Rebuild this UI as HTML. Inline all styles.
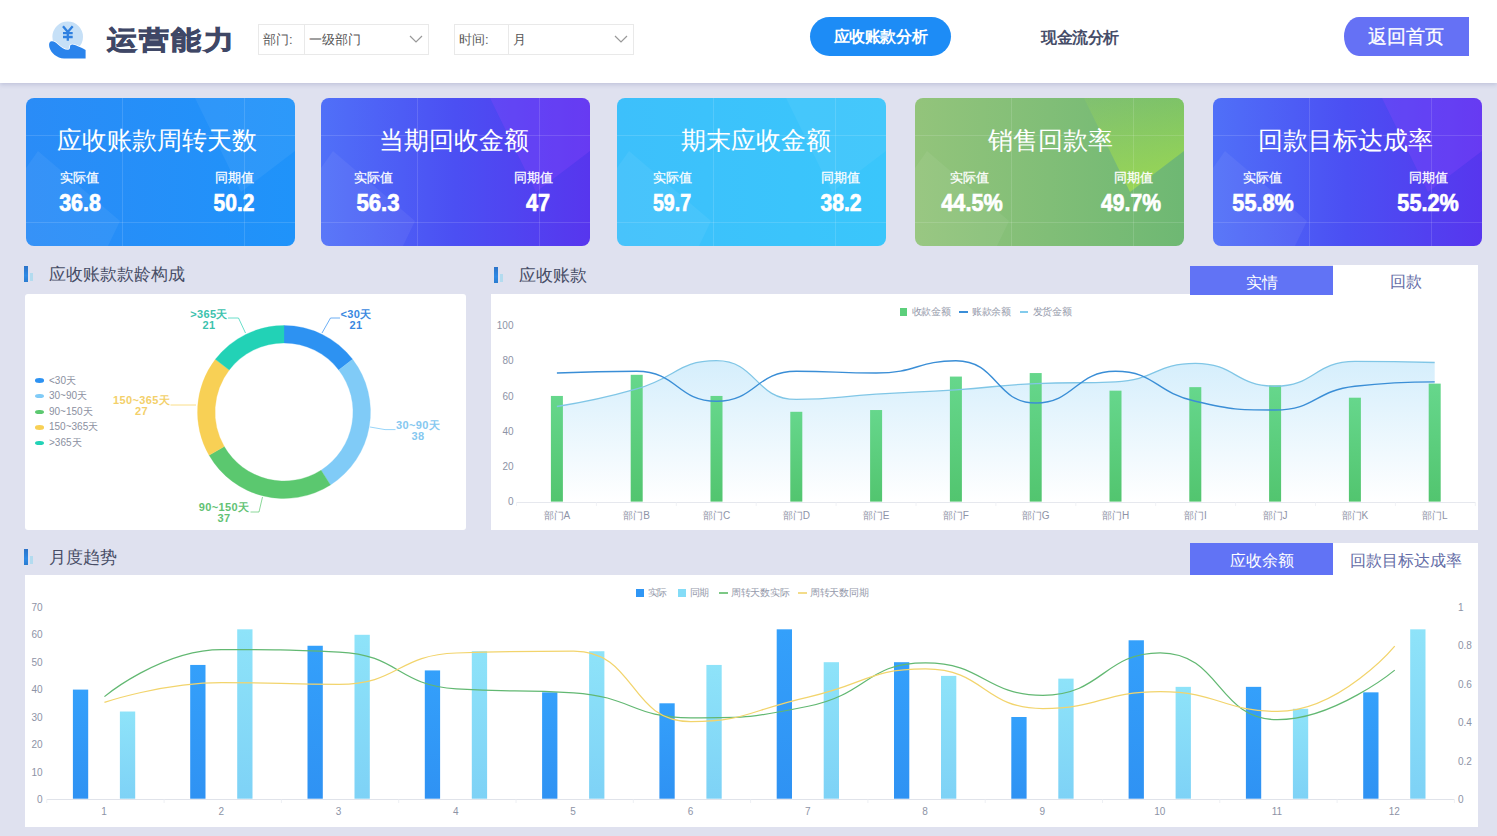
<!DOCTYPE html>
<html><head><meta charset="utf-8"><style>
*{margin:0;padding:0;box-sizing:border-box}
html,body{width:1497px;height:836px;overflow:hidden}
body{background:#dfe1ef;font-family:"Liberation Sans",sans-serif;position:relative}
.abs{position:absolute}
.hdr{position:absolute;left:0;top:0;width:1497px;height:83px;background:#fff;box-shadow:0 2px 4px rgba(160,165,200,.45)}
.sel{position:absolute;top:24px;height:31px;border:1px solid #e9e9e9;background:#fff}
.sel .lab{position:absolute;left:0;top:0;height:29px;border-right:1px solid #e9e9e9;font-size:13px;color:#5a5a5a;line-height:29px;padding-left:4px}
.sel .val{position:absolute;top:0;height:29px;font-size:13px;color:#555;line-height:29px}
.card{position:absolute;top:98px;width:269px;height:148px;border-radius:8px;overflow:hidden;color:#fff}
.card .t{position:absolute;left:0;width:100%;top:124px;text-align:center;font-size:25px;line-height:30px;white-space:nowrap}
.card .l{position:absolute;top:167px;font-size:13px;line-height:20px;white-space:nowrap;transform:translateX(-50%)}
.card .v{position:absolute;top:189px;font-size:24px;line-height:28px;font-weight:bold;white-space:nowrap;transform:translateX(-50%) scaleX(.85)}
.sec{position:absolute;font-size:17px;color:#474d66;line-height:20px;white-space:nowrap}
.bar1{position:absolute;width:4px;background:linear-gradient(#2c73c8,#2f8ae6 60%,#2b7ccf)}
.bar2{position:absolute;width:3px;background:#b3dbef}
.panel{position:absolute;background:#fff}
.tab{position:absolute;height:30px;font-size:16px;line-height:30px;text-align:center}
</style></head><body>

<div class="hdr"></div>
<svg class="abs" style="left:40px;top:10px" width="60" height="60" viewBox="0 0 60 60">
<circle cx="27.7" cy="26.8" r="15.3" fill="#c6e0f7"/>
<path d="M23,16.3 L27.8,22 L32.7,16.3 M27.8,22 V30.7 M23,23.2 H32.7 M23,27 H32.7" stroke="#2f80e0" stroke-width="2.3" fill="none"/>
<path d="M11.5,31.3 C14,31 16,32.5 18,34.5 C21,37.5 24.5,39.8 28,39.8 C29.5,39.8 30,38.5 30,36.8 C30,35.3 31.2,34.5 32.5,34.6 C35,34.8 40,37 45.6,39.9 L45.6,48.5 L24,48.5 C17,48 11,43.5 9.3,37 C8.7,34 9.3,31.6 11.5,31.3 Z" fill="#2a84ec" stroke="#fff" stroke-width="1.5" paint-order="stroke"/>
</svg>
<div class="abs" style="left:107px;top:21.5px;font-size:25.5px;line-height:36px;font-weight:900;color:#3f4766;letter-spacing:2px;-webkit-text-stroke:.9px #3f4766;white-space:nowrap;transform:scaleX(1.15);transform-origin:0 0">运营能力</div>
<div class="sel" style="left:258px;width:171px"><div class="lab" style="width:46px">部门:</div><div class="val" style="left:50px">一级部门</div></div>
<svg class="abs" style="left:409px;top:35px" width="14" height="8" viewBox="0 0 14 8"><path d="M1,1 L7,7 L13,1" stroke="#999" stroke-width="1.2" fill="none"/></svg>
<div class="sel" style="left:454px;width:180px"><div class="lab" style="width:54px">时间:</div><div class="val" style="left:58px">月</div></div>
<svg class="abs" style="left:614px;top:35px" width="14" height="8" viewBox="0 0 14 8"><path d="M1,1 L7,7 L13,1" stroke="#999" stroke-width="1.2" fill="none"/></svg>
<div class="abs" style="left:810px;top:16.5px;width:141px;height:39px;border-radius:20px;background:#1d8cf6;color:#fff;font-size:15.5px;letter-spacing:-.4px;text-indent:-.4px;font-weight:bold;line-height:40px;text-align:center;white-space:nowrap">应收账款分析</div>
<div class="abs" style="left:1041px;top:26.5px;font-size:15.5px;letter-spacing:-.5px;font-weight:bold;color:#464d68;line-height:22px;white-space:nowrap">现金流分析</div>
<div class="abs" style="left:1344px;top:16.5px;width:125px;height:39px;border-radius:15px 0 0 15px / 19.5px 0 0 19.5px;background:#6571f5;color:#fff;font-size:19px;line-height:39px;text-align:center;white-space:nowrap;padding-right:1px;-webkit-text-stroke:.3px #fff">返回首页</div>
<div class="card" style="left:26px;background:linear-gradient(90deg,#2a8cf7,#1f93fa)">
<svg class="abs" style="left:0;top:0" width="269" height="148"><path d="M12,53 L94,123 L82,148 L0,148 L0,70 Z" fill="rgba(255,255,255,.06)"/><path d="M169,0 L269,0 L269,53 L215,94 Z" fill="rgba(255,255,255,.06)"/><line x1="96.5" y1="0" x2="96.5" y2="148" stroke="rgba(255,255,255,.13)"/><line x1="218.5" y1="0" x2="218.5" y2="148" stroke="rgba(255,255,255,.13)"/><line x1="0" y1="37.5" x2="269" y2="37.5" stroke="rgba(255,255,255,.13)"/><line x1="0" y1="124.5" x2="269" y2="124.5" stroke="rgba(255,255,255,.13)"/></svg>
</div>
<div class="abs" style="left:22.1px;top:124px;width:269px;text-align:center;font-size:25.3px;line-height:32px;color:#fff;white-space:nowrap">应收账款周转天数</div>
<div class="abs" style="left:79.5px;top:168px;font-size:13px;line-height:20px;color:#fff;white-space:nowrap;transform:translateX(-50%);-webkit-text-stroke:.25px #fff">实际值</div>
<div class="abs" style="left:234px;top:168px;font-size:13px;line-height:20px;color:#fff;white-space:nowrap;transform:translateX(-50%);-webkit-text-stroke:.25px #fff">同期值</div>
<div class="abs" style="left:80px;top:189px;font-size:24px;line-height:28px;font-weight:bold;color:#fff;white-space:nowrap;transform:translateX(-50%) scaleX(0.893);-webkit-text-stroke:.7px #fff">36.8</div>
<div class="abs" style="left:234px;top:189px;font-size:24px;line-height:28px;font-weight:bold;color:#fff;white-space:nowrap;transform:translateX(-50%) scaleX(0.874);-webkit-text-stroke:.7px #fff">50.2</div>
<div class="card" style="left:320.5px;background:linear-gradient(90deg,#5070f8,#4b4ff3 50%,#5736ee)">
<svg class="abs" style="left:0;top:0" width="269" height="148"><path d="M12,53 L94,123 L82,148 L0,148 L0,70 Z" fill="rgba(255,255,255,.06)"/><path d="M169,0 L269,0 L269,53 L215,94 Z" fill="rgba(150,70,255,.25)"/><line x1="96.5" y1="0" x2="96.5" y2="148" stroke="rgba(255,255,255,.13)"/><line x1="218.5" y1="0" x2="218.5" y2="148" stroke="rgba(255,255,255,.13)"/><line x1="0" y1="37.5" x2="269" y2="37.5" stroke="rgba(255,255,255,.13)"/><line x1="0" y1="124.5" x2="269" y2="124.5" stroke="rgba(255,255,255,.13)"/></svg>
</div>
<div class="abs" style="left:319.1px;top:124px;width:269px;text-align:center;font-size:25.3px;line-height:32px;color:#fff;white-space:nowrap">当期回收金额</div>
<div class="abs" style="left:373.5px;top:168px;font-size:13px;line-height:20px;color:#fff;white-space:nowrap;transform:translateX(-50%);-webkit-text-stroke:.25px #fff">实际值</div>
<div class="abs" style="left:533.3px;top:168px;font-size:13px;line-height:20px;color:#fff;white-space:nowrap;transform:translateX(-50%);-webkit-text-stroke:.25px #fff">同期值</div>
<div class="abs" style="left:377.8px;top:189px;font-size:24px;line-height:28px;font-weight:bold;color:#fff;white-space:nowrap;transform:translateX(-50%) scaleX(0.924);-webkit-text-stroke:.7px #fff">56.3</div>
<div class="abs" style="left:538.0px;top:189px;font-size:24px;line-height:28px;font-weight:bold;color:#fff;white-space:nowrap;transform:translateX(-50%) scaleX(0.9);-webkit-text-stroke:.7px #fff">47</div>
<div class="card" style="left:617px;background:linear-gradient(90deg,#3dc0fb,#3ac6fb)">
<svg class="abs" style="left:0;top:0" width="269" height="148"><path d="M12,53 L94,123 L82,148 L0,148 L0,70 Z" fill="rgba(255,255,255,.06)"/><path d="M169,0 L269,0 L269,53 L215,94 Z" fill="rgba(255,255,255,.05)"/><line x1="96.5" y1="0" x2="96.5" y2="148" stroke="rgba(255,255,255,.13)"/><line x1="218.5" y1="0" x2="218.5" y2="148" stroke="rgba(255,255,255,.13)"/><line x1="0" y1="37.5" x2="269" y2="37.5" stroke="rgba(255,255,255,.13)"/><line x1="0" y1="124.5" x2="269" y2="124.5" stroke="rgba(255,255,255,.13)"/></svg>
</div>
<div class="abs" style="left:621px;top:124px;width:269px;text-align:center;font-size:25.3px;line-height:32px;color:#fff;white-space:nowrap">期末应收金额</div>
<div class="abs" style="left:672px;top:168px;font-size:13px;line-height:20px;color:#fff;white-space:nowrap;transform:translateX(-50%);-webkit-text-stroke:.25px #fff">实际值</div>
<div class="abs" style="left:840.6px;top:168px;font-size:13px;line-height:20px;color:#fff;white-space:nowrap;transform:translateX(-50%);-webkit-text-stroke:.25px #fff">同期值</div>
<div class="abs" style="left:671.5px;top:189px;font-size:24px;line-height:28px;font-weight:bold;color:#fff;white-space:nowrap;transform:translateX(-50%) scaleX(0.813);-webkit-text-stroke:.7px #fff">59.7</div>
<div class="abs" style="left:840.7px;top:189px;font-size:24px;line-height:28px;font-weight:bold;color:#fff;white-space:nowrap;transform:translateX(-50%) scaleX(0.874);-webkit-text-stroke:.7px #fff">38.2</div>
<div class="card" style="left:915px;background:linear-gradient(90deg,#93c47b,#6eb873)">
<svg class="abs" style="left:0;top:0" width="269" height="148"><path d="M12,53 L94,123 L82,148 L0,148 L0,70 Z" fill="rgba(255,255,255,.06)"/><path d="M169,0 L269,0 L269,53 L215,94 Z" fill="url(#tg4)"/><defs><linearGradient id="tg4" x1="0" y1="0" x2="0.3" y2="1"><stop offset="0" stop-color="#a6e04a" stop-opacity=".12"/><stop offset="1" stop-color="#a6e04a" stop-opacity=".7"/></linearGradient></defs><line x1="96.5" y1="0" x2="96.5" y2="148" stroke="rgba(255,255,255,.13)"/><line x1="218.5" y1="0" x2="218.5" y2="148" stroke="rgba(255,255,255,.13)"/><line x1="0" y1="37.5" x2="269" y2="37.5" stroke="rgba(255,255,255,.13)"/><line x1="0" y1="124.5" x2="269" y2="124.5" stroke="rgba(255,255,255,.13)"/></svg>
</div>
<div class="abs" style="left:916.4px;top:124px;width:269px;text-align:center;font-size:25.3px;line-height:32px;color:#fff;white-space:nowrap">销售回款率</div>
<div class="abs" style="left:969.3px;top:168px;font-size:13px;line-height:20px;color:#fff;white-space:nowrap;transform:translateX(-50%);-webkit-text-stroke:.25px #fff">实际值</div>
<div class="abs" style="left:1133px;top:168px;font-size:13px;line-height:20px;color:#fff;white-space:nowrap;transform:translateX(-50%);-webkit-text-stroke:.25px #fff">同期值</div>
<div class="abs" style="left:971.9px;top:189px;font-size:24px;line-height:28px;font-weight:bold;color:#fff;white-space:nowrap;transform:translateX(-50%) scaleX(0.901);-webkit-text-stroke:.7px #fff">44.5%</div>
<div class="abs" style="left:1130.6px;top:189px;font-size:24px;line-height:28px;font-weight:bold;color:#fff;white-space:nowrap;transform:translateX(-50%) scaleX(0.881);-webkit-text-stroke:.7px #fff">49.7%</div>
<div class="card" style="left:1212.5px;background:linear-gradient(90deg,#5070f8,#4b4ff3 50%,#5736ee)">
<svg class="abs" style="left:0;top:0" width="269" height="148"><path d="M12,53 L94,123 L82,148 L0,148 L0,70 Z" fill="rgba(255,255,255,.06)"/><path d="M169,0 L269,0 L269,53 L215,94 Z" fill="rgba(150,70,255,.25)"/><line x1="96.5" y1="0" x2="96.5" y2="148" stroke="rgba(255,255,255,.13)"/><line x1="218.5" y1="0" x2="218.5" y2="148" stroke="rgba(255,255,255,.13)"/><line x1="0" y1="37.5" x2="269" y2="37.5" stroke="rgba(255,255,255,.13)"/><line x1="0" y1="124.5" x2="269" y2="124.5" stroke="rgba(255,255,255,.13)"/></svg>
</div>
<div class="abs" style="left:1211.3px;top:124px;width:269px;text-align:center;font-size:25.3px;line-height:32px;color:#fff;white-space:nowrap">回款目标达成率</div>
<div class="abs" style="left:1262.5px;top:168px;font-size:13px;line-height:20px;color:#fff;white-space:nowrap;transform:translateX(-50%);-webkit-text-stroke:.25px #fff">实际值</div>
<div class="abs" style="left:1428.7px;top:168px;font-size:13px;line-height:20px;color:#fff;white-space:nowrap;transform:translateX(-50%);-webkit-text-stroke:.25px #fff">同期值</div>
<div class="abs" style="left:1263.4px;top:189px;font-size:24px;line-height:28px;font-weight:bold;color:#fff;white-space:nowrap;transform:translateX(-50%) scaleX(0.9);-webkit-text-stroke:.7px #fff">55.8%</div>
<div class="abs" style="left:1428.0px;top:189px;font-size:24px;line-height:28px;font-weight:bold;color:#fff;white-space:nowrap;transform:translateX(-50%) scaleX(0.9);-webkit-text-stroke:.7px #fff">55.2%</div>
<div class="bar1" style="left:24px;top:266px;height:15.5px"></div>
<div class="bar2" style="left:29.5px;top:273px;height:8px"></div>
<div class="sec" style="left:48.5px;top:264.6px">应收账款款龄构成</div>
<div class="bar1" style="left:494px;top:267px;height:15.5px"></div>
<div class="bar2" style="left:499.5px;top:274px;height:8px"></div>
<div class="sec" style="left:518.5px;top:265.6px">应收账款</div>
<div class="bar1" style="left:24px;top:549px;height:15.5px"></div>
<div class="bar2" style="left:29.5px;top:556px;height:8px"></div>
<div class="sec" style="left:48.5px;top:547.6px">月度趋势</div>
<div class="panel" style="left:25px;top:294px;width:441px;height:236px;border-radius:3px"></div>
<div class="panel" style="left:491px;top:294px;width:987px;height:236px"></div>
<div class="panel" style="left:25px;top:575px;width:1453px;height:251.5px"></div>
<div class="tab" style="left:1190px;top:265.5px;width:143px;height:29px;line-height:33px;background:#6173f5;color:#fff">实情</div>
<div class="tab" style="left:1333px;top:265px;width:145px;height:29px;line-height:33px;background:#fff;color:#636ca6">回款</div>
<div class="tab" style="left:1190px;top:543px;width:143px;height:32px;line-height:35px;background:#6173f5;color:#fff">应收余额</div>
<div class="tab" style="left:1333px;top:543px;width:145px;height:32px;line-height:35px;background:#fff;color:#636ca6">回款目标达成率</div>
<svg class="abs" style="left:0;top:0" width="1497" height="836"><path d="M284.00,325.50 A86.5,86.5 0 0 1 352.63,359.34 L338.74,370.00 A69,69 0 0 0 284.00,343.00 Z" fill="#2d92f2" stroke="#2d92f2" stroke-width="0.3"/><path d="M352.63,359.34 A86.5,86.5 0 0 1 330.48,484.95 L321.07,470.19 A69,69 0 0 0 338.74,370.00 Z" fill="#80cbf7" stroke="#80cbf7" stroke-width="0.3"/><path d="M330.48,484.95 A86.5,86.5 0 0 1 209.09,455.25 L224.24,446.50 A69,69 0 0 0 321.07,470.19 Z" fill="#5bc86f" stroke="#5bc86f" stroke-width="0.3"/><path d="M209.09,455.25 A86.5,86.5 0 0 1 215.37,359.34 L229.26,370.00 A69,69 0 0 0 224.24,446.50 Z" fill="#f8d055" stroke="#f8d055" stroke-width="0.3"/><path d="M215.37,359.34 A86.5,86.5 0 0 1 284.00,325.50 L284.00,343.00 A69,69 0 0 0 229.26,370.00 Z" fill="#22d2b6" stroke="#22d2b6" stroke-width="0.3"/><polyline points="228,318 238.5,318 245.5,333" fill="none" stroke="#2bd0b4" stroke-width="1" opacity=".7"/><polyline points="340,318 330.5,318 322,333" fill="none" stroke="#2f8df0" stroke-width="1" opacity=".7"/><polyline points="370,427 385,429.6 395.5,429.6" fill="none" stroke="#80cbf7" stroke-width="1" opacity=".8"/><polyline points="262.5,497 259,512 250.5,512" fill="none" stroke="#5bc86f" stroke-width="1" opacity=".7"/><polyline points="170.5,405 196,405" fill="none" stroke="#f8d055" stroke-width="1" opacity=".7"/></svg>
<div class="abs" style="left:209px;top:308.5px;transform:translateX(-50%);text-align:center;font-size:11px;line-height:11px;font-weight:bold;letter-spacing:.35px;color:#3cc2ad;white-space:nowrap">&gt;365天<br>21</div>
<div class="abs" style="left:356px;top:308.5px;transform:translateX(-50%);text-align:center;font-size:11px;line-height:11px;font-weight:bold;letter-spacing:.35px;color:#3a88e0;white-space:nowrap">&lt;30天<br>21</div>
<div class="abs" style="left:418px;top:419.5px;transform:translateX(-50%);text-align:center;font-size:11px;line-height:11px;font-weight:bold;letter-spacing:.35px;color:#86c8f0;white-space:nowrap">30~90天<br>38</div>
<div class="abs" style="left:224px;top:501.5px;transform:translateX(-50%);text-align:center;font-size:11px;line-height:11px;font-weight:bold;letter-spacing:.35px;color:#62c274;white-space:nowrap">90~150天<br>37</div>
<div class="abs" style="left:141.5px;top:395px;transform:translateX(-50%);text-align:center;font-size:11px;line-height:11px;font-weight:bold;letter-spacing:.35px;color:#f3d06a;white-space:nowrap">150~365天<br>27</div>
<div class="abs" style="left:35px;top:378.3px;width:9px;height:4.5px;border-radius:50%;background:#2d92f2"></div>
<div class="abs" style="left:49px;top:374.5px;font-size:10px;line-height:12px;color:#8a8fa0;white-space:nowrap">&lt;30天</div>
<div class="abs" style="left:35px;top:393.9px;width:9px;height:4.5px;border-radius:50%;background:#80cbf7"></div>
<div class="abs" style="left:49px;top:390.1px;font-size:10px;line-height:12px;color:#8a8fa0;white-space:nowrap">30~90天</div>
<div class="abs" style="left:35px;top:409.5px;width:9px;height:4.5px;border-radius:50%;background:#5bc86f"></div>
<div class="abs" style="left:49px;top:405.7px;font-size:10px;line-height:12px;color:#8a8fa0;white-space:nowrap">90~150天</div>
<div class="abs" style="left:35px;top:425.1px;width:9px;height:4.5px;border-radius:50%;background:#f8d055"></div>
<div class="abs" style="left:49px;top:421.3px;font-size:10px;line-height:12px;color:#8a8fa0;white-space:nowrap">150~365天</div>
<div class="abs" style="left:35px;top:440.7px;width:9px;height:4.5px;border-radius:50%;background:#22d2b6"></div>
<div class="abs" style="left:49px;top:436.9px;font-size:10px;line-height:12px;color:#8a8fa0;white-space:nowrap">&gt;365天</div>
<svg class="abs" style="left:0;top:0" width="1497" height="836"><defs><linearGradient id="ga" x1="0" y1="0" x2="0" y2="1"><stop offset="0" stop-color="#b9e3fa" stop-opacity=".6"/><stop offset="1" stop-color="#ffffff" stop-opacity=".6"/></linearGradient><linearGradient id="gb" x1="0" y1="0" x2="0" y2="1"><stop offset="0" stop-color="#66d78c"/><stop offset="1" stop-color="#52c56f"/></linearGradient><linearGradient id="gd" x1="0" y1="0" x2="0" y2="1"><stop offset="0" stop-color="#34a0fb"/><stop offset="1" stop-color="#2f92f3"/></linearGradient><linearGradient id="gl" x1="0" y1="0" x2="0" y2="1"><stop offset="0" stop-color="#8ee3f9"/><stop offset="1" stop-color="#7ed2f6"/></linearGradient></defs><path d="M556.90,406.51 C556.90,406.51 597.50,400.14 636.70,388.90 C677.30,377.25 677.54,360.72 716.50,360.72 C757.34,360.72 754.33,399.46 796.30,399.46 C834.13,399.46 836.19,396.60 876.10,394.18 C915.99,391.76 916.03,392.42 955.90,389.78 C995.83,387.13 995.75,385.38 1035.70,383.61 C1075.55,381.85 1076.12,383.61 1115.50,381.85 C1155.92,380.04 1155.67,363.36 1195.30,363.36 C1235.47,363.36 1235.33,386.25 1275.10,386.25 C1315.13,386.25 1314.08,361.42 1354.90,361.42 C1393.88,361.42 1434.70,362.48 1434.70,362.48 L1434.70,501.60 L556.90,501.60 Z" fill="url(#ga)"/><line x1="516.5" y1="502.5" x2="1475.5" y2="502.5" stroke="#e6e8ee" stroke-width="1"/><line x1="516.5" y1="502.5" x2="516.5" y2="506" stroke="#f1f2f6"/><line x1="596.4" y1="502.5" x2="596.4" y2="506" stroke="#f1f2f6"/><line x1="676.3" y1="502.5" x2="676.3" y2="506" stroke="#f1f2f6"/><line x1="756.2" y1="502.5" x2="756.2" y2="506" stroke="#f1f2f6"/><line x1="836.1" y1="502.5" x2="836.1" y2="506" stroke="#f1f2f6"/><line x1="916.0" y1="502.5" x2="916.0" y2="506" stroke="#f1f2f6"/><line x1="995.9" y1="502.5" x2="995.9" y2="506" stroke="#f1f2f6"/><line x1="1075.8" y1="502.5" x2="1075.8" y2="506" stroke="#f1f2f6"/><line x1="1155.7" y1="502.5" x2="1155.7" y2="506" stroke="#f1f2f6"/><line x1="1235.6" y1="502.5" x2="1235.6" y2="506" stroke="#f1f2f6"/><line x1="1315.5" y1="502.5" x2="1315.5" y2="506" stroke="#f1f2f6"/><line x1="1395.4" y1="502.5" x2="1395.4" y2="506" stroke="#f1f2f6"/><line x1="1475.3" y1="502.5" x2="1475.3" y2="506" stroke="#f1f2f6"/><rect x="550.90" y="395.94" width="12" height="105.66" fill="url(#gb)"/><rect x="630.70" y="374.81" width="12" height="126.79" fill="url(#gb)"/><rect x="710.50" y="395.94" width="12" height="105.66" fill="url(#gb)"/><rect x="790.30" y="411.79" width="12" height="89.81" fill="url(#gb)"/><rect x="870.10" y="410.03" width="12" height="91.57" fill="url(#gb)"/><rect x="949.90" y="376.57" width="12" height="125.03" fill="url(#gb)"/><rect x="1029.70" y="373.05" width="12" height="128.55" fill="url(#gb)"/><rect x="1109.50" y="390.66" width="12" height="110.94" fill="url(#gb)"/><rect x="1189.30" y="387.14" width="12" height="114.46" fill="url(#gb)"/><rect x="1269.10" y="385.37" width="12" height="116.23" fill="url(#gb)"/><rect x="1348.90" y="397.70" width="12" height="103.90" fill="url(#gb)"/><rect x="1428.70" y="383.61" width="12" height="117.99" fill="url(#gb)"/><path d="M556.90,406.51 C556.90,406.51 597.50,400.14 636.70,388.90 C677.30,377.25 677.54,360.72 716.50,360.72 C757.34,360.72 754.33,399.46 796.30,399.46 C834.13,399.46 836.19,396.60 876.10,394.18 C915.99,391.76 916.03,392.42 955.90,389.78 C995.83,387.13 995.75,385.38 1035.70,383.61 C1075.55,381.85 1076.12,383.61 1115.50,381.85 C1155.92,380.04 1155.67,363.36 1195.30,363.36 C1235.47,363.36 1235.33,386.25 1275.10,386.25 C1315.13,386.25 1314.08,361.42 1354.90,361.42 C1393.88,361.42 1434.70,362.48 1434.70,362.48" fill="none" stroke="#80c6e6" stroke-width="1.3"/><path d="M556.90,373.05 C556.90,373.05 598.11,371.29 636.70,371.29 C677.91,371.29 676.60,401.22 716.50,401.22 C756.40,401.22 755.09,371.29 796.30,371.29 C834.89,371.29 836.43,373.05 876.10,373.05 C916.23,373.05 918.23,360.72 955.90,360.72 C998.03,360.72 994.80,402.98 1035.70,402.98 C1074.60,402.98 1075.45,371.29 1115.50,371.29 C1155.25,371.29 1154.21,391.88 1195.30,401.22 C1234.01,410.03 1235.93,410.03 1275.10,410.03 C1315.73,410.03 1314.18,390.84 1354.90,386.25 C1393.98,381.85 1434.70,381.85 1434.70,381.85" fill="none" stroke="#3a8ed6" stroke-width="1.4"/></svg>
<div class="abs" style="right:983.5px;top:320.2px;font-size:10px;line-height:12px;color:#8d93a6;white-space:nowrap">100</div>
<div class="abs" style="right:983.5px;top:355.4px;font-size:10px;line-height:12px;color:#8d93a6;white-space:nowrap">80</div>
<div class="abs" style="right:983.5px;top:390.6px;font-size:10px;line-height:12px;color:#8d93a6;white-space:nowrap">60</div>
<div class="abs" style="right:983.5px;top:425.9px;font-size:10px;line-height:12px;color:#8d93a6;white-space:nowrap">40</div>
<div class="abs" style="right:983.5px;top:461.1px;font-size:10px;line-height:12px;color:#8d93a6;white-space:nowrap">20</div>
<div class="abs" style="right:983.5px;top:496.3px;font-size:10px;line-height:12px;color:#8d93a6;white-space:nowrap">0</div>
<div class="abs" style="left:556.9px;top:509.5px;transform:translateX(-50%);font-size:10px;line-height:12px;color:#8d93a6;white-space:nowrap">部门A</div>
<div class="abs" style="left:636.7px;top:509.5px;transform:translateX(-50%);font-size:10px;line-height:12px;color:#8d93a6;white-space:nowrap">部门B</div>
<div class="abs" style="left:716.5px;top:509.5px;transform:translateX(-50%);font-size:10px;line-height:12px;color:#8d93a6;white-space:nowrap">部门C</div>
<div class="abs" style="left:796.3px;top:509.5px;transform:translateX(-50%);font-size:10px;line-height:12px;color:#8d93a6;white-space:nowrap">部门D</div>
<div class="abs" style="left:876.1px;top:509.5px;transform:translateX(-50%);font-size:10px;line-height:12px;color:#8d93a6;white-space:nowrap">部门E</div>
<div class="abs" style="left:955.9px;top:509.5px;transform:translateX(-50%);font-size:10px;line-height:12px;color:#8d93a6;white-space:nowrap">部门F</div>
<div class="abs" style="left:1035.7px;top:509.5px;transform:translateX(-50%);font-size:10px;line-height:12px;color:#8d93a6;white-space:nowrap">部门G</div>
<div class="abs" style="left:1115.5px;top:509.5px;transform:translateX(-50%);font-size:10px;line-height:12px;color:#8d93a6;white-space:nowrap">部门H</div>
<div class="abs" style="left:1195.3px;top:509.5px;transform:translateX(-50%);font-size:10px;line-height:12px;color:#8d93a6;white-space:nowrap">部门I</div>
<div class="abs" style="left:1275.1px;top:509.5px;transform:translateX(-50%);font-size:10px;line-height:12px;color:#8d93a6;white-space:nowrap">部门J</div>
<div class="abs" style="left:1354.9px;top:509.5px;transform:translateX(-50%);font-size:10px;line-height:12px;color:#8d93a6;white-space:nowrap">部门K</div>
<div class="abs" style="left:1434.7px;top:509.5px;transform:translateX(-50%);font-size:10px;line-height:12px;color:#8d93a6;white-space:nowrap">部门L</div>
<div class="abs" style="left:899.5px;top:308.3px;width:7.6px;height:7.6px;background:#5ccf7b"></div>
<div class="abs" style="left:911.5px;top:305.8px;font-size:10px;letter-spacing:-.3px;line-height:12px;color:#959aab;white-space:nowrap">收款金额</div>
<div class="abs" style="left:959px;top:310.8px;width:9px;height:2px;background:#3a8ed8"></div>
<div class="abs" style="left:972px;top:305.8px;font-size:10px;letter-spacing:-.3px;line-height:12px;color:#959aab;white-space:nowrap">账款余额</div>
<div class="abs" style="left:1019.5px;top:310.8px;width:8.5px;height:2px;background:#83cbec"></div>
<div class="abs" style="left:1032.5px;top:305.8px;font-size:10px;letter-spacing:-.3px;line-height:12px;color:#959aab;white-space:nowrap">发货金额</div>
<svg class="abs" style="left:0;top:0" width="1497" height="836"><line x1="46.8" y1="799.5" x2="1454.4" y2="799.5" stroke="#e0e3ea"/><line x1="46.8" y1="799.5" x2="46.8" y2="803" stroke="#eef0f4"/><line x1="164.1" y1="799.5" x2="164.1" y2="803" stroke="#eef0f4"/><line x1="281.4" y1="799.5" x2="281.4" y2="803" stroke="#eef0f4"/><line x1="398.7" y1="799.5" x2="398.7" y2="803" stroke="#eef0f4"/><line x1="516.0" y1="799.5" x2="516.0" y2="803" stroke="#eef0f4"/><line x1="633.3" y1="799.5" x2="633.3" y2="803" stroke="#eef0f4"/><line x1="750.6" y1="799.5" x2="750.6" y2="803" stroke="#eef0f4"/><line x1="867.9" y1="799.5" x2="867.9" y2="803" stroke="#eef0f4"/><line x1="985.2" y1="799.5" x2="985.2" y2="803" stroke="#eef0f4"/><line x1="1102.5" y1="799.5" x2="1102.5" y2="803" stroke="#eef0f4"/><line x1="1219.8" y1="799.5" x2="1219.8" y2="803" stroke="#eef0f4"/><line x1="1337.1" y1="799.5" x2="1337.1" y2="803" stroke="#eef0f4"/><line x1="1454.4" y1="799.5" x2="1454.4" y2="803" stroke="#eef0f4"/><rect x="72.90" y="689.60" width="15.3" height="109.10" fill="url(#gd)"/><rect x="119.90" y="711.52" width="15.3" height="87.18" fill="url(#gl)"/><rect x="190.20" y="664.94" width="15.3" height="133.76" fill="url(#gd)"/><rect x="237.20" y="629.32" width="15.3" height="169.38" fill="url(#gl)"/><rect x="307.50" y="645.76" width="15.3" height="152.94" fill="url(#gd)"/><rect x="354.50" y="634.80" width="15.3" height="163.90" fill="url(#gl)"/><rect x="424.80" y="670.42" width="15.3" height="128.28" fill="url(#gd)"/><rect x="471.80" y="651.24" width="15.3" height="147.46" fill="url(#gl)"/><rect x="542.10" y="692.34" width="15.3" height="106.36" fill="url(#gd)"/><rect x="589.10" y="651.24" width="15.3" height="147.46" fill="url(#gl)"/><rect x="659.40" y="703.30" width="15.3" height="95.40" fill="url(#gd)"/><rect x="706.40" y="664.94" width="15.3" height="133.76" fill="url(#gl)"/><rect x="776.70" y="629.32" width="15.3" height="169.38" fill="url(#gd)"/><rect x="823.70" y="662.20" width="15.3" height="136.50" fill="url(#gl)"/><rect x="894.00" y="662.20" width="15.3" height="136.50" fill="url(#gd)"/><rect x="941.00" y="675.90" width="15.3" height="122.80" fill="url(#gl)"/><rect x="1011.30" y="717.00" width="15.3" height="81.70" fill="url(#gd)"/><rect x="1058.30" y="678.64" width="15.3" height="120.06" fill="url(#gl)"/><rect x="1128.60" y="640.28" width="15.3" height="158.42" fill="url(#gd)"/><rect x="1175.60" y="686.86" width="15.3" height="111.84" fill="url(#gl)"/><rect x="1245.90" y="686.86" width="15.3" height="111.84" fill="url(#gd)"/><rect x="1292.90" y="708.78" width="15.3" height="89.92" fill="url(#gl)"/><rect x="1363.20" y="692.34" width="15.3" height="106.36" fill="url(#gd)"/><rect x="1410.20" y="629.32" width="15.3" height="169.38" fill="url(#gl)"/><path d="M104.45,696.63 C104.45,696.63 160.92,649.55 221.75,649.55 C278.22,649.55 281.78,649.55 339.05,652.04 C399.08,654.66 396.33,684.92 456.35,688.95 C513.63,692.79 515.63,688.95 573.65,692.79 C632.93,696.72 631.79,717.78 690.95,717.78 C749.09,717.78 751.34,717.78 808.25,706.24 C868.64,694.01 866.10,662.81 925.55,662.81 C983.40,662.81 984.92,695.29 1042.85,695.29 C1102.22,695.29 1103.82,652.81 1160.15,652.81 C1221.12,652.81 1217.08,719.70 1277.45,719.70 C1334.38,719.70 1394.75,670.11 1394.75,670.11" fill="none" stroke="#62b872" stroke-width="1.25"/><path d="M104.45,702.40 C104.45,702.40 162.69,682.60 221.75,682.60 C279.99,682.60 281.41,684.33 339.05,684.33 C398.71,684.33 396.69,654.99 456.35,653.00 C513.99,651.08 519.51,651.08 573.65,651.08 C636.81,651.08 628.41,721.62 690.95,721.62 C745.71,721.62 749.78,710.14 808.25,697.02 C867.08,683.81 867.67,668.96 925.55,668.96 C984.97,668.96 982.92,708.55 1042.85,708.55 C1100.22,708.55 1101.61,691.64 1160.15,691.64 C1218.91,691.64 1222.35,711.43 1277.45,711.43 C1339.65,711.43 1394.75,646.09 1394.75,646.09" fill="none" stroke="#f2d46c" stroke-width="1.25"/></svg>
<div class="abs" style="right:1454.5px;top:601.7px;font-size:10px;line-height:12px;color:#8d93a6;white-space:nowrap">70</div>
<div class="abs" style="right:1454.5px;top:629.2px;font-size:10px;line-height:12px;color:#8d93a6;white-space:nowrap">60</div>
<div class="abs" style="right:1454.5px;top:656.6px;font-size:10px;line-height:12px;color:#8d93a6;white-space:nowrap">50</div>
<div class="abs" style="right:1454.5px;top:684.1px;font-size:10px;line-height:12px;color:#8d93a6;white-space:nowrap">40</div>
<div class="abs" style="right:1454.5px;top:711.5px;font-size:10px;line-height:12px;color:#8d93a6;white-space:nowrap">30</div>
<div class="abs" style="right:1454.5px;top:739.0px;font-size:10px;line-height:12px;color:#8d93a6;white-space:nowrap">20</div>
<div class="abs" style="right:1454.5px;top:766.5px;font-size:10px;line-height:12px;color:#8d93a6;white-space:nowrap">10</div>
<div class="abs" style="right:1454.5px;top:793.9px;font-size:10px;line-height:12px;color:#8d93a6;white-space:nowrap">0</div>
<div class="abs" style="left:1458px;top:602.0px;font-size:10px;line-height:12px;color:#8d93a6;white-space:nowrap">1</div>
<div class="abs" style="left:1458px;top:640.4px;font-size:10px;line-height:12px;color:#8d93a6;white-space:nowrap">0.8</div>
<div class="abs" style="left:1458px;top:678.9px;font-size:10px;line-height:12px;color:#8d93a6;white-space:nowrap">0.6</div>
<div class="abs" style="left:1458px;top:717.3px;font-size:10px;line-height:12px;color:#8d93a6;white-space:nowrap">0.4</div>
<div class="abs" style="left:1458px;top:755.8px;font-size:10px;line-height:12px;color:#8d93a6;white-space:nowrap">0.2</div>
<div class="abs" style="left:1458px;top:794.2px;font-size:10px;line-height:12px;color:#8d93a6;white-space:nowrap">0</div>
<div class="abs" style="left:104.0px;top:806px;transform:translateX(-50%);font-size:10px;line-height:12px;color:#8d93a6;white-space:nowrap">1</div>
<div class="abs" style="left:221.2px;top:806px;transform:translateX(-50%);font-size:10px;line-height:12px;color:#8d93a6;white-space:nowrap">2</div>
<div class="abs" style="left:338.6px;top:806px;transform:translateX(-50%);font-size:10px;line-height:12px;color:#8d93a6;white-space:nowrap">3</div>
<div class="abs" style="left:455.8px;top:806px;transform:translateX(-50%);font-size:10px;line-height:12px;color:#8d93a6;white-space:nowrap">4</div>
<div class="abs" style="left:573.1px;top:806px;transform:translateX(-50%);font-size:10px;line-height:12px;color:#8d93a6;white-space:nowrap">5</div>
<div class="abs" style="left:690.5px;top:806px;transform:translateX(-50%);font-size:10px;line-height:12px;color:#8d93a6;white-space:nowrap">6</div>
<div class="abs" style="left:807.8px;top:806px;transform:translateX(-50%);font-size:10px;line-height:12px;color:#8d93a6;white-space:nowrap">7</div>
<div class="abs" style="left:925.1px;top:806px;transform:translateX(-50%);font-size:10px;line-height:12px;color:#8d93a6;white-space:nowrap">8</div>
<div class="abs" style="left:1042.3px;top:806px;transform:translateX(-50%);font-size:10px;line-height:12px;color:#8d93a6;white-space:nowrap">9</div>
<div class="abs" style="left:1159.7px;top:806px;transform:translateX(-50%);font-size:10px;line-height:12px;color:#8d93a6;white-space:nowrap">10</div>
<div class="abs" style="left:1277.0px;top:806px;transform:translateX(-50%);font-size:10px;line-height:12px;color:#8d93a6;white-space:nowrap">11</div>
<div class="abs" style="left:1394.2px;top:806px;transform:translateX(-50%);font-size:10px;line-height:12px;color:#8d93a6;white-space:nowrap">12</div>
<div class="abs" style="left:636px;top:589px;width:8px;height:7.5px;background:#2f96f5"></div>
<div class="abs" style="left:647.5px;top:586.8px;font-size:10px;letter-spacing:-.3px;line-height:12px;color:#959aab;white-space:nowrap">实际</div>
<div class="abs" style="left:678px;top:589px;width:8px;height:7.5px;background:#84dcf7"></div>
<div class="abs" style="left:689.5px;top:586.8px;font-size:10px;letter-spacing:-.3px;line-height:12px;color:#959aab;white-space:nowrap">同期</div>
<div class="abs" style="left:718.5px;top:592px;width:9px;height:1.5px;background:#7cc885"></div>
<div class="abs" style="left:731px;top:586.8px;font-size:10px;letter-spacing:-.3px;line-height:12px;color:#959aab;white-space:nowrap">周转天数实际</div>
<div class="abs" style="left:797.5px;top:592px;width:9px;height:1.5px;background:#f3dc8a"></div>
<div class="abs" style="left:810px;top:586.8px;font-size:10px;letter-spacing:-.3px;line-height:12px;color:#959aab;white-space:nowrap">周转天数同期</div>
</body></html>
